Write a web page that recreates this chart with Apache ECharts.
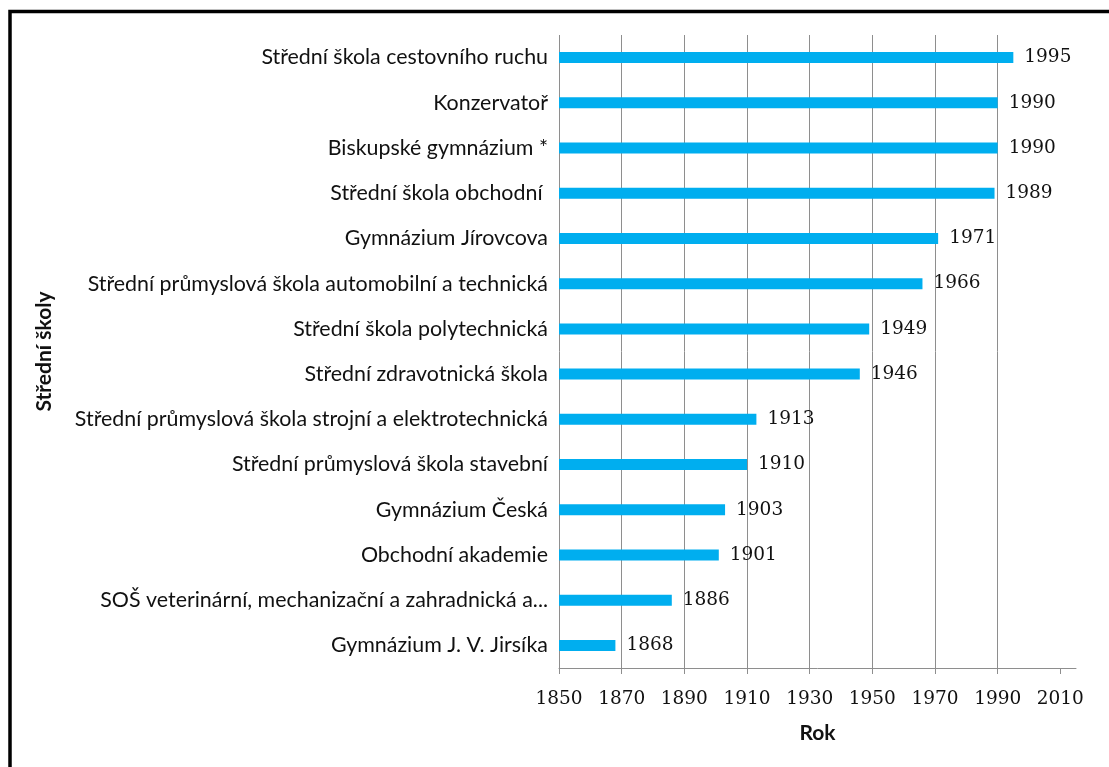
<!DOCTYPE html>
<html>
<head>
<meta charset="utf-8">
<script src="https://cdn.jsdelivr.net/npm/echarts@6/dist/echarts.min.js"></script>
<style>
  html, body { margin: 0; padding: 0; background: #fff; }
  #chart { width: 1109px; height: 767px; }
</style>
</head>
<body>
<div id="chart"></div>
<script>
var schools = [
  'Střední škola cestovního ruchu',
  'Konzervatoř',
  'Biskupské gymnázium *',
  'Střední škola obchodní ',
  'Gymnázium Jírovcova',
  'Střední průmyslová škola automobilní a technická',
  'Střední škola polytechnická',
  'Střední zdravotnická škola',
  'Střední průmyslová škola strojní a elektrotechnická',
  'Střední průmyslová škola stavební',
  'Gymnázium Česká',
  'Obchodní akademie',
  'SOŠ veterinární, mechanizační a zahradnická a...',
  'Gymnázium J. V. Jirsíka'
];

var founded = [1995, 1990, 1990, 1989, 1971, 1966, 1949, 1946, 1913, 1910, 1903, 1901, 1886, 1868];

var yearTicks = [1850, 1870, 1890, 1910, 1930, 1950, 1970, 1990, 2010];

var labelFont = 'Lato, "Open Sans", sans-serif';
var numberFont = '"DejaVu Serif", serif';
var gridColor = '#8e8e8e';

var chart = echarts.init(document.getElementById('chart'));

chart.setOption({
  animation: false,
  backgroundColor: '#fff',
  graphic: [{
    type: 'rect',
    shape: { x: 10, y: 11.5, width: 1200, height: 900 },
    style: { fill: 'none', stroke: '#000', lineWidth: 3.5 },
    silent: true
  }],
  grid: {
    left: 559,
    right: 33,
    top: 35,
    bottom: 99
  },
  xAxis: {
    type: 'value',
    min: 1850,
    max: 2015,
    interval: 20,
    name: 'Rok',
    nameLocation: 'middle',
    nameGap: 55,
    nameTextStyle: {
      fontFamily: labelFont,
      fontSize: 21,
      fontWeight: 'bold',
      color: '#111'
    },
    axisLine: { show: true, lineStyle: { color: gridColor, width: 1 } },
    axisTick: {
      show: true,
      length: 6,
      customValues: yearTicks,
      lineStyle: { color: gridColor }
    },
    axisLabel: {
      customValues: yearTicks,
      margin: 22,
      fontFamily: numberFont,
      fontSize: 18.5,
      color: '#111',
      formatter: function (v) { return String(v); }
    },
    splitLine: {
      show: true,
      showMaxLine: false,
      lineStyle: { color: gridColor, width: 1 }
    }
  },
  yAxis: {
    type: 'category',
    data: schools,
    inverse: true,
    name: 'Střední školy',
    nameLocation: 'middle',
    nameRotate: 90,
    nameGap: 504,
    nameTextStyle: {
      fontFamily: labelFont,
      fontSize: 21,
      fontWeight: 'bold',
      color: '#111'
    },
    axisLine: { show: false },
    axisTick: { show: false },
    axisLabel: {
      margin: 11,
      fontFamily: labelFont,
      fontSize: 21.4,
      color: '#111'
    },
    splitLine: { show: false }
  },
  series: [{
    type: 'bar',
    data: founded,
    barWidth: 11,
    itemStyle: { color: '#00AEEF' },
    label: {
      show: true,
      position: 'right',
      distance: 11,
      fontFamily: numberFont,
      fontSize: 18.5,
      color: '#111'
    }
  }]
});
</script>
</body>
</html>
